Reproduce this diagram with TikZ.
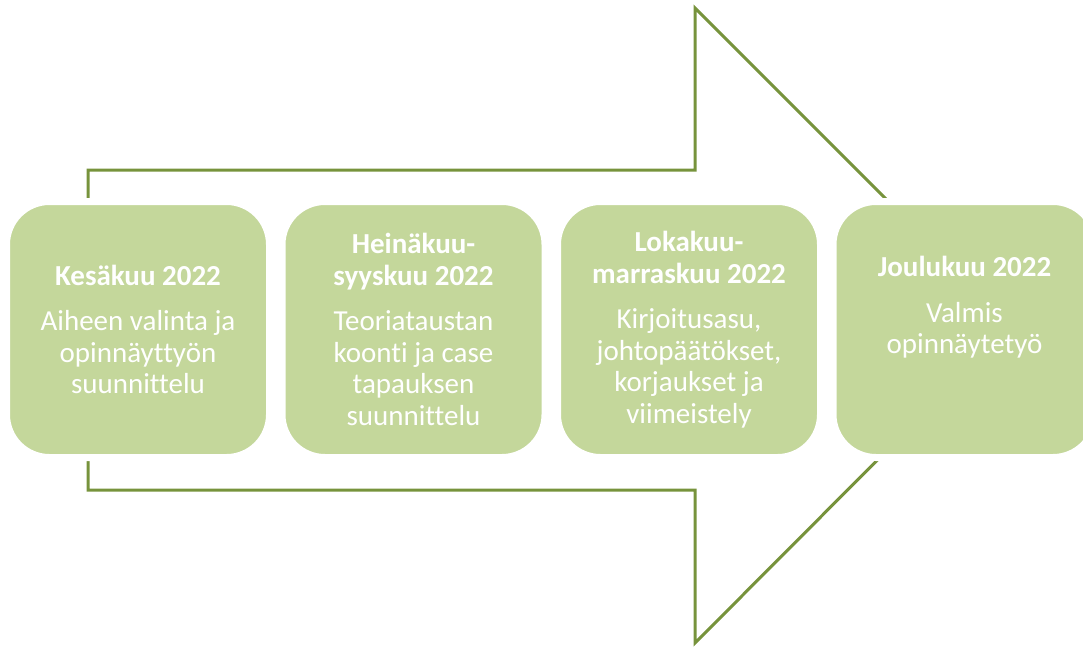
\documentclass[tikz,border=0pt]{standalone}
\usepackage{fontspec}
\setmainfont{Carlito}[Ligatures={NoCommon}]
\usepackage{xcolor}
\definecolor{olivedark}{HTML}{77933C}
\definecolor{olivelight}{HTML}{C4D79B}
\usepackage{tikz}

\begin{document}
\begin{tikzpicture}[x=1pt,y=-1pt,line join=miter]
              \tikzstyle{box}=[rounded corners=43pt,fill=olivelight,draw=white,line width=7pt,minimum width=263pt,minimum height=256pt]
              \tikzstyle{txt}=[text=white,align=center,font=\fontsize{29}{31.5}\selectfont]
              \tikzstyle{e}=[draw=olivedark,line width=3pt]

              \clip (0,0) rectangle (1083,646);

              % big arrow behind the boxes
              \coordinate (S1) at (88,170);
              \coordinate (S2) at (695,170);
              \coordinate (H1) at (695,8);
              \coordinate (T)  at (1012,325);
              \coordinate (H2) at (695,643);
              \coordinate (S3) at (695,490);
              \coordinate (S4) at (88,490);
              \path[e] (S1) -- (S2) -- (H1) -- (T) -- (H2) -- (S3) -- (S4) -- cycle;

              \node[box] (K) at (138,329.5)   {};
              \node[box] (H) at (413.5,329.5) {};
              \node[box] (L) at (689,329.5)   {};
              \node[box] (J) at (964.5,329.5) {};

              \node[txt] at (K) {\textbf{Kesäkuu 2022}\\[14pt]Aiheen valinta ja\\opinnäyttyön\\suunnittelu};
              \node[txt] at (H) {\textbf{Heinäkuu-}\\\textbf{syyskuu 2022}\\[14pt]Teoriataustan\\koonti ja case\\tapauksen\\suunnittelu};
              \node[txt] at (L) {\textbf{Lokakuu-}\\\textbf{marraskuu 2022}\\[14pt]Kirjoitusasu,\\johtopäätökset,\\korjaukset ja\\viimeistely};
              \node[txt] at ([yshift=22pt]J.center) {\textbf{Joulukuu 2022}\\[14pt]Valmis\\opinnäytetyö};

       \end{tikzpicture}
\end{document}
